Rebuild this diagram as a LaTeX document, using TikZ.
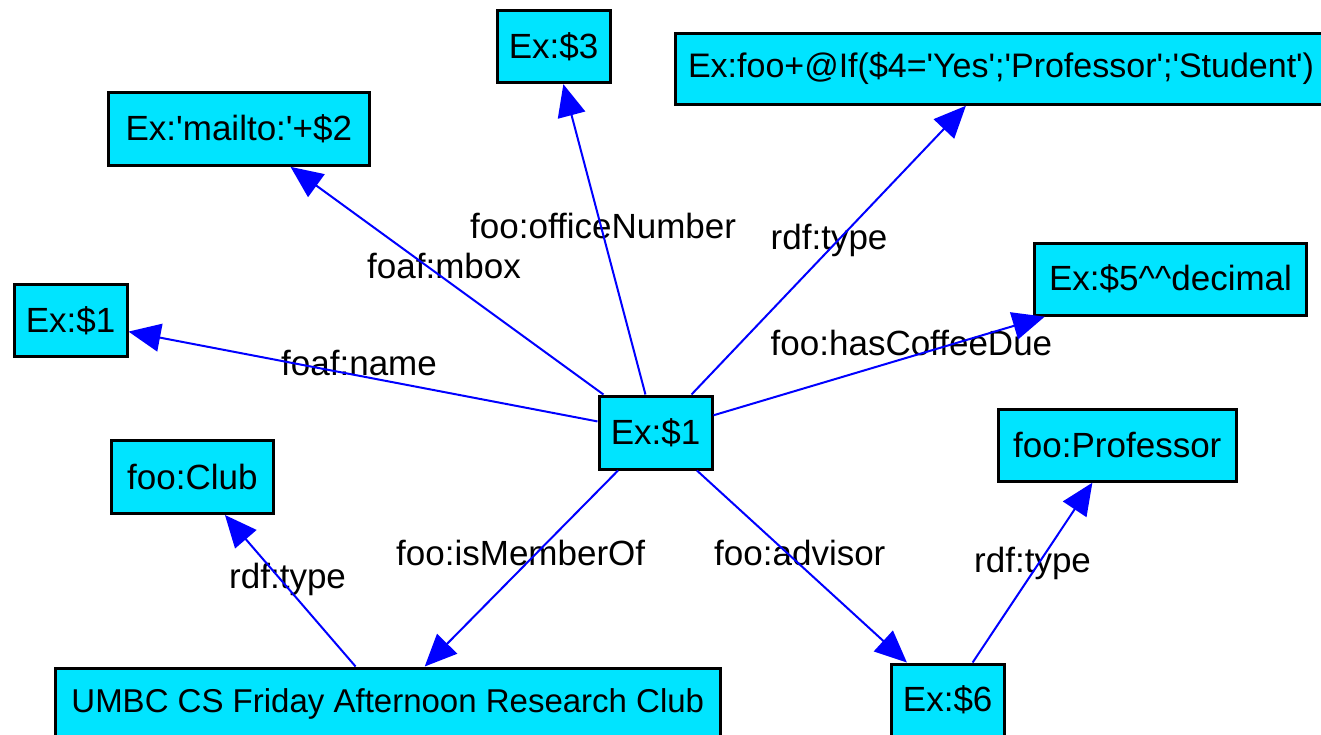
\documentclass[tikz,border=0pt]{standalone}
\usepackage{fontspec}
\setmainfont{Liberation Sans}
\usetikzlibrary{arrows.meta}
\definecolor{boxcyan}{RGB}{0,228,255}
\definecolor{edgeblue}{RGB}{0,0,255}
\begin{document}
\begin{tikzpicture}[x=1pt,y=-1pt,
  box/.style={draw=black, line width=3pt, fill=boxcyan, inner sep=0pt, text=black, font=\fontsize{35}{42}\selectfont},
  edge/.style={draw=edgeblue, line width=2pt, -{Triangle[length=32pt,width=28pt]}},
  lbl/.style={font=\fontsize{35}{42}\selectfont, anchor=base west, inner sep=0pt, text=black}]
\useasboundingbox (0,0) rectangle (1321,735);
\clip (0,0) rectangle (1321,735);
\fill[white] (0,0) rectangle (1321,735);

% nodes
\node[box, minimum width=113pt, minimum height=73pt] (c) at (655.5,432.5) {Ex:\$1};
\node[box, minimum width=113pt, minimum height=72pt] (n3) at (553.5,46.7) {Ex:\$3};
\node[box, minimum width=260.5pt, minimum height=72.7pt] (m) at (238.8,129) {Ex:\textquotesingle mailto:\textquotesingle+\$2};
\node[box, minimum width=113pt, minimum height=72pt] (l) at (70.5,320.5) {Ex:\$1};
\node[box, minimum width=652pt, minimum height=71pt, font=\fontsize{34}{40}\selectfont] (f) at (1001,68.8) {Ex:foo+@If(\$4=\textquotesingle Yes\textquotesingle;\textquotesingle Professor\textquotesingle;\textquotesingle Student\textquotesingle)};
\node[box, minimum width=272.7pt, minimum height=72pt] (d) at (1170.5,279.2) {Ex:\$5\textasciicircum\textasciicircum decimal};
\node[box, minimum width=237.6pt, minimum height=72pt] (p) at (1117.3,445.2) {foo:Professor};
\node[box, minimum width=161.6pt, minimum height=73pt] (club) at (192.3,477) {foo:Club};
\node[box, minimum width=665.4pt, minimum height=72pt, font=\fontsize{33}{40}\selectfont] (u) at (387.8,704) {UMBC CS Friday Afternoon Research Club};
\node[box, minimum width=113pt, minimum height=72pt] (s6) at (947.7,700) {Ex:\$6};

% labels
\node[lbl] (lofn) at (470,238) {foo:officeNumber};
\node[lbl] (lmbox) at (367,278) {foaf:mbox};
\node[lbl] (lname) at (281,375) {foaf:name};
\node[lbl] (ltype1) at (770.5,250) {rdf:type};
\node[lbl] (lcof) at (770.5,355) {foo:hasCoffeeDue};
\node[lbl] (ltype2) at (229,588) {rdf:type};
\node[lbl] (lmem) at (396,565) {foo:isMemberOf};
\node[lbl] (ladv) at (714,565) {foo:advisor};
\node[lbl] (ltype3) at (974,572) {rdf:type};

% edges
\draw[edge] (c) -- (n3);
\draw[edge] (c) -- (m);
\draw[edge] (c) -- (l);
\draw[edge] (c) -- (f);
\draw[edge] (c) -- (d);
\draw[edge] (c) -- (u);
\draw[edge] (c) -- (s6);
\draw[edge] (u) -- (club);
\draw[edge] (s6) -- (p);
\end{tikzpicture}
\end{document}
